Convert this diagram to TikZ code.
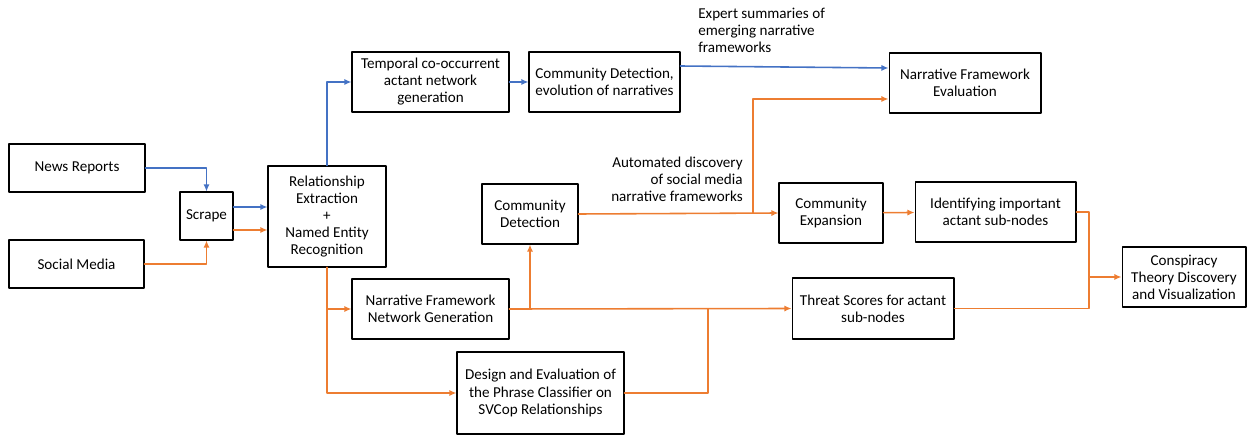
\documentclass[tikz,border=0pt]{standalone}
\usepackage{fontspec}
\setmainfont{Carlito}
\usetikzlibrary{arrows.meta,calc}

\definecolor{flowblue}{RGB}{68,114,196}
\definecolor{floworange}{RGB}{237,125,49}

\tikzset{
	box/.style={draw, line width=0.6pt, align=center, inner sep=2pt,
		font=\fontsize{8.6}{9.7}\selectfont},
	note/.style={inner sep=0pt, font=\fontsize{8.6}{9.7}\selectfont},
	blueflow/.style={draw=flowblue, line width=0.9pt, -{Latex[length=4pt,width=3.5pt]}},
	orangeflow/.style={draw=floworange, line width=0.9pt, -{Latex[length=4pt,width=3.5pt]}},
	orangeline/.style={draw=floworange, line width=0.9pt}
}

\begin{document}
\begin{tikzpicture}[x=0.02cm, y=-0.02cm, line cap=round, line join=round]
	\useasboundingbox (0,0) rectangle (1250,435);

	% sources and preprocessing
	\node[box, minimum width=2.72cm, minimum height=0.96cm] (news) at (77,168) {News Reports};
	\node[box, minimum width=2.70cm, minimum height=0.96cm] (social) at (76.5,264) {Social Media};
	\node[box, minimum width=1.06cm, minimum height=0.96cm] (scrape) at (206.5,216) {Scrape};
	\node[box, minimum width=2.36cm, minimum height=2.02cm] (rel) at (327,216.5)
		{Relationship\\Extraction\\+\\Named Entity\\Recognition};

	% upper (news) branch
	\node[box, minimum width=3.14cm, minimum height=1.2cm] (temporal) at (430.5,82)
		{Temporal co-occurrent\\actant network\\generation};
	\node[box, minimum width=3.02cm, minimum height=1.2cm] (evolution) at (604.5,82)
		{Community Detection,\\evolution of narratives};
	\node[box, minimum width=3.04cm, minimum height=1.2cm] (evaluation) at (965,83)
		{Narrative Framework\\Evaluation};

	% lower (social media) branch
	\node[box, minimum width=3.14cm, minimum height=1.2cm] (nfng) at (430.5,309)
		{Narrative Framework\\Network Generation};
	\node[box, minimum width=3.34cm, minimum height=1.64cm] (design) at (540.5,393)
		{Design and Evaluation of\\the Phrase Classifier on\\SVCop Relationships};
	\node[box, minimum width=1.92cm, minimum height=1.2cm] (commdet) at (530,214)
		{Community\\Detection};
	\node[box, minimum width=2.08cm, minimum height=1.2cm] (expansion) at (831,213)
		{Community\\Expansion};
	\node[box, minimum width=3.22cm, minimum height=1.2cm] (identify) at (995.5,212)
		{Identifying important\\actant sub-nodes};
	\node[box, minimum width=3.24cm, minimum height=1.22cm] (threat) at (873,308.5)
		{Threat Scores for actant\\sub-nodes};
	\node[box, minimum width=2.48cm, minimum height=1.2cm] (conspiracy) at (1184,277)
		{Conspiracy\\Theory Discovery\\and Visualization};

	% annotations
	\node[note, anchor=north west, align=left] (expert) at (698,8)
		{Expert summaries of\\emerging narrative\\frameworks};
	\node[note, anchor=north east, align=right] (automated) at (743,157)
		{Automated discovery\\of social media\\narrative frameworks};

	% junctions
	\coordinate (jdesign) at (708,309);
	\coordinate (jauto) at (753,213);
	\coordinate (jfinal) at (1089,277);

	% blue flow
	\draw[blueflow] (news.east) -| (scrape.north);
	\draw[blueflow] ([yshift=0.18cm]scrape.east) -- ([yshift=0.18cm]scrape.east -| rel.west);
	\draw[blueflow] (rel.north) |- (temporal.west);
	\draw[blueflow] (temporal) -- (evolution);
	\draw[blueflow] ([yshift=0.32cm]evolution.east) -- ([yshift=0.3cm]evaluation.west);

	% orange flow
	\draw[orangeflow] (social.east) -| (scrape.south);
	\draw[orangeflow] ([yshift=-0.28cm]scrape.east) -- ([yshift=-0.28cm]scrape.east -| rel.west);
	\draw[orangeflow] (rel.south) |- (nfng.west);
	\draw[orangeflow] (rel.south) |- (design.west);
	\draw[orangeflow] (nfng.east) -| (commdet.south);
	\draw[orangeflow] (nfng.east) -- (threat.west);
	\draw[orangeline] (design.east) -| (jdesign);
	\draw[orangeflow] (commdet.east) -- (expansion.west);
	\draw[orangeflow] (jauto) |- ([yshift=-0.32cm]evaluation.west);
	\draw[orangeflow] (expansion) -- (identify);
	\draw[orangeline] (identify.east) -| (jfinal);
	\draw[orangeline] (threat.east) -| (jfinal);
	\draw[orangeflow] (jfinal) -- (conspiracy.west);
\end{tikzpicture}
\end{document}
